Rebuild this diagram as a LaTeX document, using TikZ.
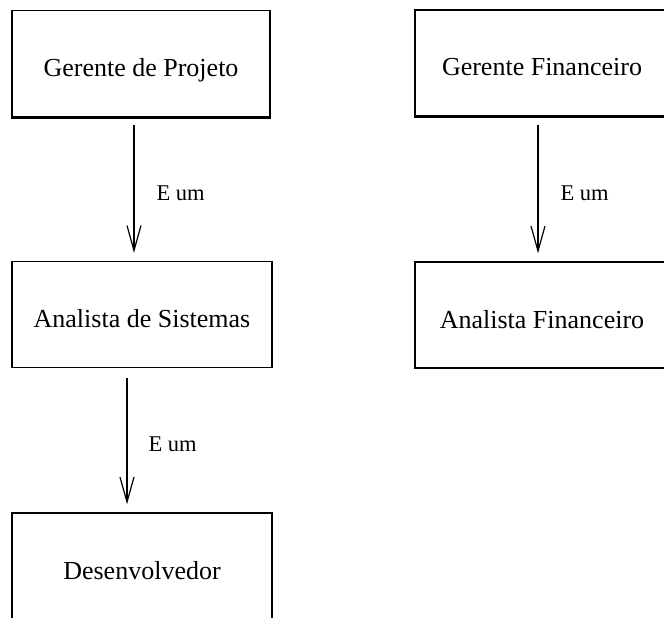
\documentclass[tikz,border=0pt]{standalone}
\usepackage{fontspec}
\setmainfont{Liberation Serif}
\usetikzlibrary{arrows.meta}
\begin{document}
\begin{tikzpicture}[x=1pt,y=-1pt,
  classbox/.style={draw, line width=1.4pt, minimum width=#1, minimum height=106pt,
    inner sep=0pt, text height=32pt, text depth=6pt,
    font=\fontsize{26}{30}\selectfont},
  classbox/.default=258pt,
  isa/.style={draw, line width=1.2pt, -{Straight Barb[length=25pt,width=14pt,line width=1.2pt]},
    shorten <=8pt, shorten >=8pt},
  isalabel/.style={anchor=west, inner sep=0pt, font=\fontsize{22.5}{26}\selectfont}]
  \useasboundingbox (0,0) rectangle (664,618);
  \clip (0,0) rectangle (664,618);

  % class boxes
  \node[classbox=258pt] (gp)  at (141,63.5)  {Gerente de Projeto};
  \node[classbox=254pt] (gf)  at (542,63)    {Gerente Financeiro};
  \node[classbox=260pt] (as)  at (142,314.5) {Analista de Sistemas};
  \node[classbox=254pt] (af)  at (542,315)   {Analista Financeiro};
  \node[classbox=260pt] (dev) at (142,566)   {Desenvolvedor};

  % heavier lower edge on the top row
  \draw[line width=2.6pt] (gp.south west) -- (gp.south east);
  \draw[line width=2.6pt] (gf.south west) -- (gf.south east);

  % "is a" relations
  \draw[isa] ([xshift=-7pt]gp.south) -- ([xshift=-7pt]gp.south |- as.north)
    node[isalabel, pos=0.5, xshift=22pt, yshift=-4pt] (l1) {E um};
  \draw[isa] ([xshift=-4pt]gf.south) -- ([xshift=-4pt]gf.south |- af.north)
    node[isalabel, pos=0.5, xshift=22pt, yshift=-4pt] (l2) {E um};
  \draw[isa] ([xshift=-15pt,yshift=-2pt]as.south) -- ([xshift=-15pt]as.south |- dev.north)
    node[isalabel, pos=0.5, xshift=21pt, yshift=-3pt] (l3) {E um};
\end{tikzpicture}
\end{document}
